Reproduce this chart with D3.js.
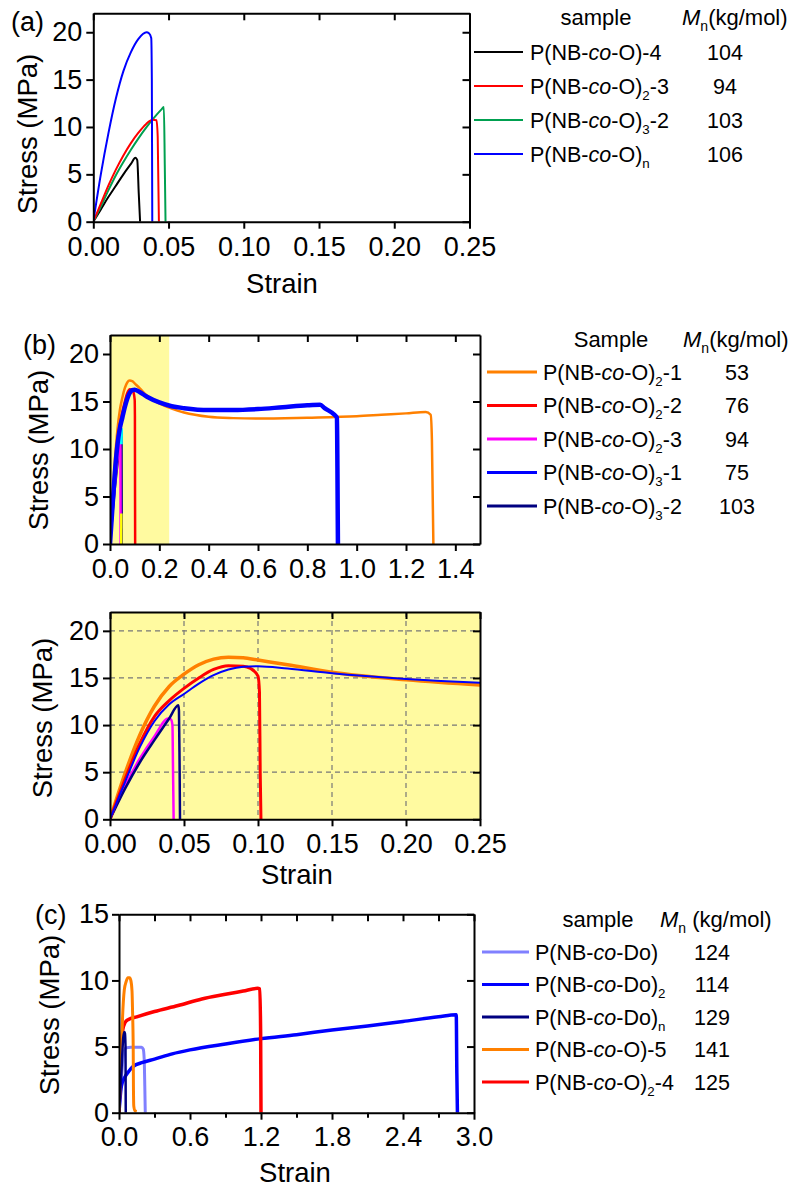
<!DOCTYPE html>
<html>
<head>
<meta charset="utf-8">
<script src="https://cdn.jsdelivr.net/npm/d3@7"></script>
<style>
  body { margin: 0; background: #fff; }
  svg text { font-family: "Liberation Sans", Arial, sans-serif; fill: #000; }
</style>
</head>
<body>
<svg id="chart" width="789" height="1189"></svg>
<script>
// ---- panel (a) ----
const aNames = ["P(NB-co-O)-4", "P(NB-co-O)_2-3", "P(NB-co-O)_3-2", "P(NB-co-O)_n"];
const aMn = [104, 94, 103, 106];
const aXTicks = [0, 0.05, 0.1, 0.15, 0.2, 0.25];
const aYTicks = [0, 5, 10, 15, 20];
const aBlack = [[0,0],[0.005,1.3],[0.01,2.6],[0.015,3.8],[0.02,5.0],[0.025,6.1],[0.028,6.75],[0.0292,6.5],[0.0302,3],[0.0311,0]];
const aRed = [[0,0],[0.005,1.9],[0.01,3.8],[0.015,5.5],[0.02,7.0],[0.025,8.3],[0.03,9.4],[0.035,10.3],[0.0395,10.75],[0.042,10.7],[0.0428,9],[0.0436,0]];
const aGreen = [[0,0],[0.005,1.6],[0.01,3.3],[0.015,4.9],[0.02,6.3],[0.025,7.6],[0.03,8.8],[0.035,9.9],[0.04,10.9],[0.045,11.8],[0.0469,12.1],[0.0475,6],[0.048,0]];
const aBlue = [[0,0],[0.005,5.0],[0.01,9.3],[0.015,13.0],[0.02,15.9],[0.025,17.9],[0.03,19.3],[0.0354,20.0],[0.037,19.9],[0.0385,19.4],[0.0389,15],[0.0392,0]];

// ---- panel (b) ----
const bNames = ["P(NB-co-O)_2-1", "P(NB-co-O)_2-2", "P(NB-co-O)_2-3", "P(NB-co-O)_3-1", "P(NB-co-O)_3-2"];
const bMn = [53, 76, 94, 75, 103];
const bTopXTicks = [0, 0.2, 0.4, 0.6, 0.8, 1.0, 1.2, 1.4];
const bZoomXTicks = [0, 0.05, 0.1, 0.15, 0.2, 0.25];
const bYTicks = [0, 5, 10, 15, 20];
const bShade = [0, 0.24];
const bOrange = [[0,0],[0.01,4.8],[0.02,8.9],[0.03,12.0],[0.04,14.1],[0.05,15.4],[0.06,16.4],[0.07,17.0],[0.08,17.2],[0.09,17.15],[0.1,16.9],[0.12,16.4],[0.15,15.6],[0.2,14.8],[0.25,14.25],[0.3,13.85],[0.4,13.4],[0.5,13.25],[0.6,13.2],[0.8,13.3],[1.0,13.45],[1.1,13.6],[1.2,13.75],[1.28,13.9],[1.3,13.6],[1.305,11],[1.311,0]];
const bRed = [[0,0],[0.01,4.2],[0.02,8.0],[0.03,10.9],[0.04,12.6],[0.05,13.9],[0.06,15.0],[0.07,15.9],[0.08,16.3],[0.09,16.25],[0.095,16.0],[0.1,15.2],[0.101,13.5],[0.1015,5],[0.102,0]];
const bMagenta = [[0,0],[0.01,3.5],[0.02,6.4],[0.03,8.8],[0.0394,10.7],[0.0412,10.6],[0.0422,10],[0.0426,5],[0.043,0]];
const bBlue = [[0,0],[0.01,3.9],[0.02,7.6],[0.03,10.4],[0.04,12.2],[0.05,13.3],[0.06,14.4],[0.07,15.3],[0.08,15.9],[0.09,16.2],[0.1,16.25],[0.12,16.0],[0.15,15.5],[0.2,14.9],[0.25,14.5],[0.3,14.3],[0.4,14.1],[0.5,14.1],[0.6,14.2],[0.7,14.4],[0.8,14.6],[0.852,14.65],[0.87,14.3],[0.91,13.6],[0.92,13.3],[0.922,8],[0.924,0]];
const bNavy = [[0,0],[0.01,3.2],[0.02,6.0],[0.03,8.4],[0.04,10.7],[0.0462,12.1],[0.0466,11.5],[0.047,6],[0.0473,0]];
const bCyanMark = [[0.0445,10.5],[0.0455,12.2]];
const bYellowMark = [[0.0455,0],[0.046,3.2]];

// ---- panel (c) ----
const cNames = ["P(NB-co-Do)", "P(NB-co-Do)_2", "P(NB-co-Do)_n", "P(NB-co-O)-5", "P(NB-co-O)_2-4"];
const cMn = [124, 114, 129, 141, 125];
const cXTicks = [0, 0.6, 1.2, 1.8, 2.4, 3.0];
const cXMinor = [0.3, 0.9, 1.5, 2.1, 2.7];
const cYTicks = [0, 5, 10, 15];
const cLightBlue = [[0,0],[0.02,2.5],[0.04,4.5],[0.06,4.9],[0.1,4.95],[0.19,4.95],[0.205,4.8],[0.213,4],[0.218,2],[0.222,0]];
const cBlue = [[0,0],[0.01,1.2],[0.02,2.0],[0.05,2.7],[0.08,3.1],[0.12,3.5],[0.2,3.8],[0.3,4.05],[0.45,4.45],[0.6,4.75],[0.9,5.2],[1.2,5.6],[1.5,5.9],[1.8,6.25],[2.1,6.55],[2.4,6.9],[2.7,7.25],[2.85,7.4],[2.855,3],[2.86,0]];
const cNavy = [[0,0],[0.02,3],[0.035,5.6],[0.045,6.1],[0.05,6.0],[0.055,5],[0.057,0]];
const cOrange = [[0,0],[0.01,2],[0.02,4.5],[0.03,7.2],[0.045,9.3],[0.06,9.9],[0.075,10.2],[0.09,10.2],[0.1,10.0],[0.11,9.2],[0.115,7.5],[0.12,5],[0.122,2],[0.125,0.5],[0.135,0.15],[0.15,0.1]];
const cRed = [[0,0],[0.01,3.2],[0.02,5.0],[0.03,6.2],[0.05,6.8],[0.08,7.05],[0.15,7.25],[0.3,7.65],[0.5,8.1],[0.7,8.6],[0.9,8.95],[1.05,9.2],[1.17,9.4],[1.19,9.35],[1.197,6],[1.2,0]];

const svg = d3.select("#chart");
const fontTick = 27;

// legend label: "co" italic, "_x" subscript
function richText(sel, str, size) {
  const parts = str.split("co");
  const seg = [];
  seg.push({ t: parts[0] });
  seg.push({ t: "co", it: true });
  const rest = parts[1];
  const m = rest.match(/^(.*?)_(.)(.*)$/);
  if (m) {
    seg.push({ t: m[1] });
    seg.push({ t: m[2], sub: true });
    if (m[3]) seg.push({ t: m[3], up: true });
  } else {
    seg.push({ t: rest });
  }
  seg.forEach(s => {
    const ts = sel.append("tspan").text(s.t);
    if (s.it) ts.attr("font-style", "italic");
    if (s.sub) ts.attr("font-size", size * 0.62).attr("dy", size * 0.3);
    if (s.up) ts.attr("dy", -size * 0.3);
  });
}

function drawLegend(lg) {
  const g = svg.append("g");
  g.append("text").attr("x", lg.headX).attr("y", lg.headY)
    .attr("text-anchor", "middle").attr("font-size", 22).text(lg.head);
  const mt = g.append("text").attr("x", lg.mnX).attr("y", lg.headY).attr("font-size", 22);
  mt.append("tspan").attr("font-style", "italic").text("M");
  mt.append("tspan").attr("font-size", 14).attr("dy", 6).text("n");
  mt.append("tspan").attr("dy", -6).text(lg.mnUnit);
  lg.names.forEach((n, i) => {
    const yy = lg.rowY + i * lg.rowStep;
    g.append("line").attr("x1", lg.lineX1).attr("x2", lg.lineX2)
      .attr("y1", yy).attr("y2", yy)
      .attr("stroke", lg.colors[i]).attr("stroke-width", lg.lineW);
    const t = g.append("text").attr("x", lg.textX).attr("y", yy + 7.5).attr("font-size", 21.5);
    richText(t, n, 21.5);
    g.append("text").attr("x", lg.valX).attr("y", yy + 7.5)
      .attr("text-anchor", "middle").attr("font-size", 21.5).text(lg.mn[i]);
  });
}

function drawPanel(p) {
  const x = d3.scaleLinear().domain(p.xDomain).range([p.left, p.right]);
  const y = d3.scaleLinear().domain(p.yDomain).range([p.bottom, p.top]);
  const g = svg.append("g");
  const clipId = "clip-" + p.id;
  svg.append("clipPath").attr("id", clipId).append("rect")
    .attr("x", p.left).attr("y", p.top)
    .attr("width", p.right - p.left).attr("height", p.bottom - p.top);

  if (p.shade) {
    g.append("rect")
      .attr("x", x(p.shade[0])).attr("y", p.top)
      .attr("width", x(p.shade[1]) - x(p.shade[0])).attr("height", p.bottom - p.top)
      .attr("fill", "#fffaa0");
  }
  if (p.grid) {
    g.append("g").selectAll("line").data(p.xTicks.slice(1, -1)).enter().append("line")
      .attr("x1", d => x(d)).attr("x2", d => x(d)).attr("y1", p.top).attr("y2", p.bottom)
      .attr("stroke", "#777").attr("stroke-dasharray", "5,4").attr("stroke-width", 1.2);
    g.append("g").selectAll("line").data(p.yTicks.slice(1)).enter().append("line")
      .attr("y1", d => y(d)).attr("y2", d => y(d)).attr("x1", p.left).attr("x2", p.right)
      .attr("stroke", "#777").attr("stroke-dasharray", "5,4").attr("stroke-width", 1.2);
  }

  const line = d3.line().x(d => x(d[0])).y(d => y(d[1])).curve(d3.curveMonotoneX);
  g.append("g").attr("clip-path", `url(#${clipId})`)
    .selectAll("path").data(p.series).enter().append("path")
    .attr("d", d => line(d.values))
    .attr("fill", "none")
    .attr("stroke", d => d.color)
    .attr("stroke-width", d => d.width)
    .attr("stroke-linejoin", "round");

  // axes
  const ax = g.append("g");
  const bottom = ax.append("g").attr("transform", `translate(0,${p.bottom})`)
    .call(d3.axisBottom(x).tickValues(p.xTicks).tickFormat(d3.format(p.xFmt))
      .tickSizeInner(7).tickSizeOuter(0).tickPadding(p.xPad));
  bottom.selectAll("text").attr("font-size", fontTick).attr("fill", "#000");
  if (p.xMinor) {
    ax.append("g").attr("transform", `translate(0,${p.bottom})`)
      .call(d3.axisBottom(x).tickValues(p.xMinor).tickFormat("").tickSizeInner(5).tickSizeOuter(0))
      .select(".domain").remove();
  }
  ax.append("g").attr("transform", `translate(0,${p.top})`)
    .call(d3.axisTop(x).tickValues((p.xMinor || []).concat(p.xTicks)).tickFormat("")
      .tickSizeInner(-7).tickSizeOuter(0));
  const left = ax.append("g").attr("transform", `translate(${p.left},0)`)
    .call(d3.axisLeft(y).tickValues(p.yTicks).tickFormat(d3.format("d"))
      .tickSizeInner(7).tickSizeOuter(0).tickPadding(p.yPad));
  left.selectAll("text").attr("font-size", fontTick).attr("fill", "#000");
  ax.append("g").attr("transform", `translate(${p.right},0)`)
    .call(d3.axisRight(y).tickValues(p.yTicks).tickFormat("")
      .tickSizeInner(-7).tickSizeOuter(0));
  ax.selectAll(".domain").attr("stroke", "#000").attr("stroke-width", 2);
  ax.selectAll(".tick line").attr("stroke", "#000").attr("stroke-width", 2);
  ax.selectAll("text").style("font-family", '"Liberation Sans", Arial, sans-serif');

  // titles
  g.append("text")
    .attr("transform", `translate(${p.yLabelX},${p.yLabelY}) rotate(-90)`)
    .attr("text-anchor", "middle").attr("font-size", 27.5).text("Stress (MPa)");
  if (p.xLabelY) {
    g.append("text").attr("x", p.xLabelX).attr("y", p.xLabelY)
      .attr("text-anchor", "middle").attr("font-size", 27.5).text("Strain");
  }
  if (p.tag) {
    g.append("text").attr("x", p.tagX).attr("y", p.tagY).attr("font-size", 27).text(p.tag);
  }
}

// (a)
drawPanel({
  id: "a", left: 93.3, right: 469.5, top: 13.3, bottom: 221.7,
  xDomain: [0, 0.25], yDomain: [0, 22],
  xTicks: aXTicks, yTicks: aYTicks, xFmt: ".2f", xPad: 8, yPad: 4,
  series: [
    { values: aBlack, color: "#000000", width: 2 },
    { values: aGreen, color: "#00a050", width: 2 },
    { values: aRed, color: "#ff0000", width: 2 },
    { values: aBlue, color: "#0000ff", width: 2 }
  ],
  yLabelX: 37, yLabelY: 134, xLabelX: 282, xLabelY: 293,
  tag: "(a)", tagX: 11, tagY: 31
});
drawLegend({
  head: "sample", headX: 596, headY: 25, mnX: 682, mnUnit: "(kg/mol)",
  names: aNames, mn: aMn, colors: ["#000000", "#ff0000", "#00a050", "#0000ff"],
  rowY: 52, rowStep: 34, lineX1: 474, lineX2: 523, textX: 530, valX: 725, lineW: 2
});

// (b) overview
drawPanel({
  id: "b1", left: 110, right: 480, top: 335, bottom: 544,
  xDomain: [0, 1.5], yDomain: [0, 22],
  xTicks: bTopXTicks, yTicks: bYTicks, xFmt: ".1f", xPad: 8, yPad: 4,
  shade: bShade,
  series: [
    { values: bNavy, color: "#000080", width: 2.5 },
    { values: bMagenta, color: "#ff00ff", width: 2.5 },
    { values: bYellowMark, color: "#ffff00", width: 2.5 },
    { values: bCyanMark, color: "#00ffff", width: 3.5 },
    { values: bOrange, color: "#ff8000", width: 2.5 },
    { values: bRed, color: "#ff0000", width: 2.5 },
    { values: bBlue, color: "#0000ff", width: 4.5 }
  ],
  yLabelX: 48, yLabelY: 450,
  tag: "(b)", tagX: 23, tagY: 354
});
drawLegend({
  head: "Sample", headX: 611, headY: 347, mnX: 683, mnUnit: "(kg/mol)",
  names: bNames, mn: bMn, colors: ["#ff8000", "#ff0000", "#ff00ff", "#0000ff", "#000080"],
  rowY: 372, rowStep: 33.5, lineX1: 487, lineX2: 537, textX: 543, valX: 737, lineW: 3
});

// (b) zoom
drawPanel({
  id: "b2", left: 110, right: 480, top: 612, bottom: 819.3,
  xDomain: [0, 0.25], yDomain: [0, 22],
  xTicks: bZoomXTicks, yTicks: bYTicks, xFmt: ".2f", xPad: 8, yPad: 4,
  shade: [0, 0.25], grid: true,
  series: [
    { values: bOrange, color: "#ff8000", width: 3.5 },
    { values: bMagenta, color: "#ff00ff", width: 2.5 },
    { values: bNavy, color: "#000080", width: 2.5 },
    { values: bRed, color: "#ff0000", width: 3 },
    { values: bBlue, color: "#0000ff", width: 2 }
  ],
  yLabelX: 52, yLabelY: 718, xLabelX: 297, xLabelY: 884
});

// (c)
drawPanel({
  id: "c", left: 119, right: 474, top: 914.3, bottom: 1112.7,
  xDomain: [0, 3], yDomain: [0, 15],
  xTicks: cXTicks, xMinor: cXMinor, yTicks: cYTicks, xFmt: ".1f", xPad: 7, yPad: 3,
  series: [
    { values: cLightBlue, color: "#8080ff", width: 3 },
    { values: cBlue, color: "#0000ff", width: 3.5 },
    { values: cRed, color: "#ff0000", width: 3.5 },
    { values: cOrange, color: "#ff8000", width: 3 },
    { values: cNavy, color: "#000080", width: 2.5 }
  ],
  yLabelX: 59, yLabelY: 1015, xLabelX: 295, xLabelY: 1182,
  tag: "(c)", tagX: 35, tagY: 924
});
drawLegend({
  head: "sample", headX: 598, headY: 927, mnX: 660, mnUnit: " (kg/mol)",
  names: cNames, mn: cMn, colors: ["#8080ff", "#0000ff", "#000080", "#ff8000", "#ff0000"],
  rowY: 952, rowStep: 32.5, lineX1: 482, lineX2: 529, textX: 535, valX: 712, lineW: 3
});
</script>
</body>
</html>
